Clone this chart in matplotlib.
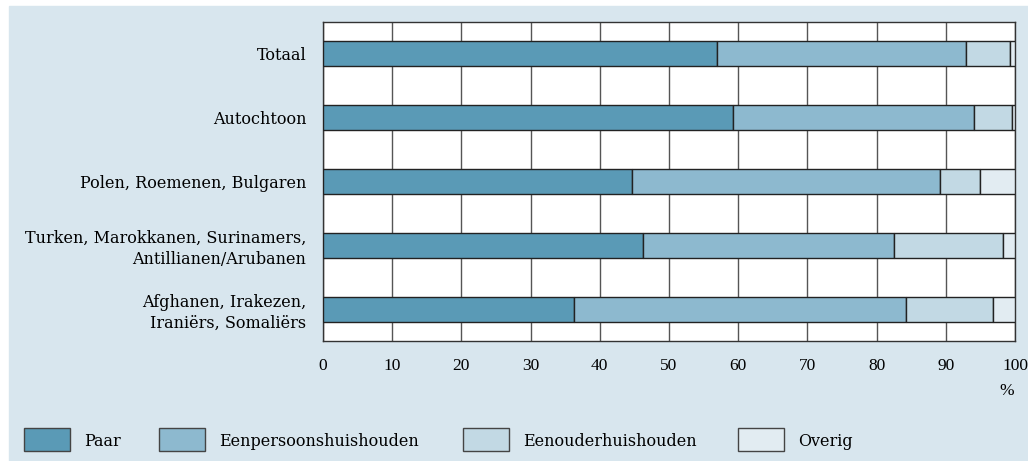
import numpy as np
import matplotlib.pyplot as plt
from matplotlib.patches import Rectangle

plt.rcParams['font.family'] = ['DejaVu Serif', 'Liberation Serif']

groups = ['Totaal', 'Autochtoon', 'Polen, Roemenen, Bulgaren',
          'Turken, Marokkanen, Surinamers,\nAntillianen/Arubanen',
          'Afghanen, Irakezen,\nIraniërs, Somaliërs']
series = ['Paar', 'Eenpersoonshuishouden', 'Eenouderhuishouden', 'Overig']
paar = [57.0, 59.3, 44.7, 46.2, 36.3]
eenpersoons = [35.9, 34.8, 44.4, 36.3, 48.0]
eenouder = [6.4, 5.5, 5.9, 15.7, 12.5]
overig = [0.7, 0.4, 5.0, 1.8, 3.2]
colors = ['#5a9ab6', '#8db9cf', '#c2d9e4', '#e2ecf2']
xticks = np.arange(0, 101, 10)

fig = plt.figure(figsize=(10.28, 4.61), dpi=100)
fig.patches.append(Rectangle((9 / 1028, 0), 1, 455 / 461, transform=fig.transFigure,
                             color='#d8e6ee', zorder=-5))

ax = fig.add_axes([323 / 1028, 1 - 341 / 461, 692 / 1028, 319 / 461])
ax.set_facecolor('white')

y = np.arange(len(groups))
left = np.zeros(len(groups))
for vals, col, name in zip([paar, eenpersoons, eenouder, overig], colors, series):
    ax.barh(y, vals, left=left, height=0.39, color=col, edgecolor='#222222',
            linewidth=1, label=name, zorder=3)
    left = left + np.array(vals)

ax.set_xlim(0, 100)
ax.set_ylim(len(groups) - 0.5, -0.5)
ax.set_xticks(xticks)
ax.set_xticklabels([str(t) for t in xticks], fontsize=12.5, family='Liberation Serif')
ax.set_yticks(y)
ax.set_yticklabels(groups, fontsize=11.5, linespacing=1.25)
ax.tick_params(axis='both', length=0)
ax.tick_params(axis='x', pad=12)
ax.tick_params(axis='y', pad=12)
ax.grid(axis='x', color='#555555', linewidth=1, zorder=1)
for s in ax.spines.values():
    s.set_color('#333333')
    s.set_linewidth(1)

fig.text(1007 / 1028, 1 - 391 / 461, '%', fontsize=12.5, family='Liberation Serif',
         ha='center', va='center')

# legend
legend_x = [24, 159, 463, 738]
for lx, col, name in zip(legend_x, colors, series):
    fig.patches.append(Rectangle((lx / 1028, 1 - 451 / 461), 46 / 1028, 23 / 461,
                                 transform=fig.transFigure, facecolor=col,
                                 edgecolor='#444444', linewidth=1, zorder=2))
    fig.text((lx + 60) / 1028, 1 - 441 / 461, name, fontsize=11.5, va='center', ha='left')

fig.savefig('out.png', dpi=100)
